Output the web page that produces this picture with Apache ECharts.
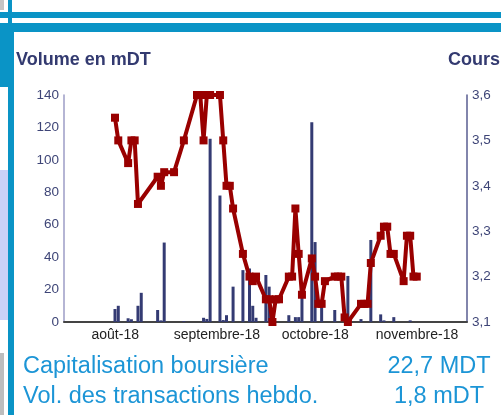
<!DOCTYPE html>
<html>
<head>
<meta charset="utf-8">
<script src="https://cdn.jsdelivr.net/npm/echarts@6/dist/echarts.min.js"></script>
<style>
  html, body { margin: 0; padding: 0; background: #ffffff; }
  #chart { width: 501px; height: 415px; }
</style>
</head>
<body>
<div id="chart"></div>
<script>
// Daily traded volume (mDT)
const volDates = [
  '2018-08-02','2018-08-03','2018-08-06','2018-08-07','2018-08-09','2018-08-10',
  '2018-08-15','2018-08-16','2018-08-17','2018-08-23','2018-08-29','2018-08-30',
  '2018-08-31','2018-09-03','2018-09-04','2018-09-05','2018-09-07','2018-09-10',
  '2018-09-12','2018-09-13','2018-09-14','2018-09-17','2018-09-18','2018-09-24',
  '2018-09-26','2018-09-27','2018-09-28','2018-10-01','2018-10-02','2018-10-04',
  '2018-10-08','2018-10-12','2018-10-16','2018-10-19','2018-10-22','2018-10-23',
  '2018-10-26','2018-10-31'
];
const volumes = [
  8, 10, 2.3, 1.7, 10, 18,
  7.4, 1, 49, 0.5, 2.6, 1.9,
  113, 78, 1.2, 4.2, 21.8, 32,
  33, 10, 2.6, 29, 21.8, 4.2,
  3, 3, 18, 123.2, 49.3, 9.5,
  7.4, 28.4, 1.8, 50.6, 4.7, 1,
  3, 1
];

// Closing price (DT)
const priceDates = [
  '2018-08-02','2018-08-03','2018-08-06','2018-08-07','2018-08-08','2018-08-09',
  '2018-08-15','2018-08-16','2018-08-17','2018-08-20','2018-08-23','2018-08-27',
  '2018-08-28','2018-08-29','2018-08-30','2018-08-31','2018-09-03','2018-09-04',
  '2018-09-05','2018-09-06','2018-09-07','2018-09-10','2018-09-12','2018-09-13',
  '2018-09-14','2018-09-17','2018-09-18','2018-09-19','2018-09-20','2018-09-21',
  '2018-09-24','2018-09-25','2018-09-26','2018-09-27','2018-09-28','2018-10-01',
  '2018-10-02','2018-10-03','2018-10-04','2018-10-05','2018-10-08','2018-10-09',
  '2018-10-10','2018-10-11','2018-10-12','2018-10-16','2018-10-17','2018-10-18',
  '2018-10-19','2018-10-22','2018-10-23','2018-10-24','2018-10-25','2018-10-26',
  '2018-10-29','2018-10-30','2018-10-31','2018-11-01','2018-11-02'
];
const prices = [
  3.55, 3.50, 3.45, 3.50, 3.50, 3.36,
  3.42, 3.40, 3.43, 3.43, 3.50, 3.60,
  3.60, 3.50, 3.60, 3.60, 3.60, 3.50,
  3.40, 3.40, 3.35, 3.25, 3.20, 3.19,
  3.20, 3.15, 3.15, 3.10, 3.15, 3.15,
  3.20, 3.20, 3.35, 3.25, 3.16, 3.24,
  3.20, 3.14, 3.14, 3.19, 3.20, 3.20,
  3.20, 3.11, 3.10, 3.14, 3.14, 3.14,
  3.23, 3.29, 3.31, 3.31, 3.25, 3.25,
  3.19, 3.29, 3.29, 3.20, 3.20
];

// Month labels on the date axis
const monthTicks = ['2018-08-01', '2018-09-01', '2018-10-01', '2018-11-01'];
const monthLabels = ['août-18', 'septembre-18', 'octobre-18', 'novembre-18'];

// Left / right axis ticks
const volumeTicks = [0, 20, 40, 60, 80, 100, 120, 140];
const priceTicks = [3.1, 3.2, 3.3, 3.4, 3.5, 3.6];

// Footer figures
const capLabel = 'Capitalisation boursière';
const capValue = '22,7 MDT';
const volLabel = 'Vol. des transactions hebdo.';
const volValue = '1,8 mDT';

// Dates are placed on a plain numeric axis as day numbers (UTC days)
const DAY = 86400000;
function dayNum(s) {
  const p = s.split('-').map(Number);
  return Date.UTC(p[0], p[1] - 1, p[2]) / DAY;
}

const tickDays = monthTicks.map(dayNum);
const volData = volDates.map((d, i) => [dayNum(d), volumes[i]]);
const priceData = priceDates.map((d, i) => [dayNum(d), prices[i]]);
const firstDay = dayNum(priceDates[0]);

const FONT = "'Liberation Sans', Arial, sans-serif";
const BLUE = '#0a94c6';
const NAVY = '#333a70';
const AXIS_TXT = '#3e4577';
const FOOT = '#1c95d6';

const chart = echarts.init(document.getElementById('chart'), null, { renderer: 'canvas' });

chart.setOption({
  animation: false,
  backgroundColor: '#ffffff',
  textStyle: { fontFamily: FONT },
  grid: { left: 64, right: 34, top: 95, bottom: 93, containLabel: false },
  xAxis: {
    type: 'value',
    min: firstDay - 15.55,
    max: firstDay + 107.32,
    axisLine: { show: true, onZero: false, lineStyle: { color: '#444444', width: 2 } },
    axisTick: { show: false },
    splitLine: { show: false },
    axisLabel: {
      customValues: tickDays,
      showMinLabel: true,
      showMaxLabel: true,
      color: '#222222',
      fontFamily: FONT,
      fontSize: 14,
      margin: 6,
      padding: [0, 0, 0, 7],
      formatter: function (v) {
        const i = tickDays.indexOf(v);
        return i >= 0 ? monthLabels[i] : '';
      }
    }
  },
  yAxis: [
    {
      type: 'value',
      min: volumeTicks[0],
      max: volumeTicks[volumeTicks.length - 1],
      interval: 20,
      position: 'left',
      axisLine: { show: true, lineStyle: { color: '#9c9cc6', width: 1.5 } },
      axisTick: { show: false },
      splitLine: { show: false },
      axisLabel: { color: AXIS_TXT, fontSize: 13.5, fontFamily: FONT, margin: 5 }
    },
    {
      type: 'value',
      min: priceTicks[0],
      max: priceTicks[priceTicks.length - 1],
      interval: 0.1,
      position: 'right',
      axisLine: { show: true, lineStyle: { color: '#585c90', width: 1.5 } },
      axisTick: { show: false },
      splitLine: { show: false },
      axisLabel: {
        color: AXIS_TXT, fontSize: 13.5, fontFamily: FONT, margin: 5,
        formatter: v => v.toFixed(1).replace('.', ',')
      }
    }
  ],
  series: [
    {
      name: 'Volume',
      type: 'bar',
      yAxisIndex: 0,
      barWidth: 3,
      itemStyle: { color: '#343b73' },
      data: volData,
      z: 2
    },
    {
      name: 'Cours',
      type: 'line',
      yAxisIndex: 1,
      data: priceData,
      symbol: 'rect',
      symbolSize: 8,
      showAllSymbol: true,
      lineStyle: { color: '#990000', width: 4, join: 'round' },
      itemStyle: { color: '#990000' },
      z: 3
    }
  ],
  graphic: [
    // page frame decoration
    { type: 'rect', shape: { x: 0, y: 0, width: 4, height: 10 }, style: { fill: '#c4c4c4' } },
    { type: 'rect', shape: { x: 8, y: 0, width: 4, height: 32 }, style: { fill: BLUE } },
    { type: 'rect', shape: { x: 0, y: 12, width: 501, height: 6 }, style: { fill: BLUE } },
    { type: 'rect', shape: { x: 0, y: 23, width: 501, height: 9 }, style: { fill: BLUE } },
    { type: 'rect', shape: { x: 0, y: 32, width: 14, height: 55 }, style: { fill: BLUE } },
    { type: 'rect', shape: { x: 8, y: 87, width: 6, height: 328 }, style: { fill: BLUE } },
    { type: 'rect', shape: { x: 0, y: 170, width: 8, height: 150 }, style: { fill: '#c9d1f7' } },
    { type: 'rect', shape: { x: 0, y: 353, width: 4, height: 62 }, style: { fill: '#bdbdbd' } },
    // axis titles
    { type: 'text', left: 16, top: 51, style: { text: 'Volume en mDT', font: 'bold 18px ' + FONT, fill: NAVY } },
    { type: 'text', right: 1, top: 51, style: { text: 'Cours', font: 'bold 18px ' + FONT, fill: NAVY } },
    // footer
    { type: 'text', x: 23, y: 367, style: { text: capLabel, font: '23.5px ' + FONT, fill: FOOT, verticalAlign: 'middle', align: 'left' } },
    { type: 'text', x: 439, y: 367, style: { text: capValue, font: '23.5px ' + FONT, fill: FOOT, verticalAlign: 'middle', align: 'center' } },
    { type: 'text', x: 23, y: 397, style: { text: volLabel, font: '23.5px ' + FONT, fill: FOOT, verticalAlign: 'middle', align: 'left' } },
    { type: 'text', x: 439, y: 397, style: { text: volValue, font: '23.5px ' + FONT, fill: FOOT, verticalAlign: 'middle', align: 'center' } }
  ]
});
</script>
</body>
</html>
